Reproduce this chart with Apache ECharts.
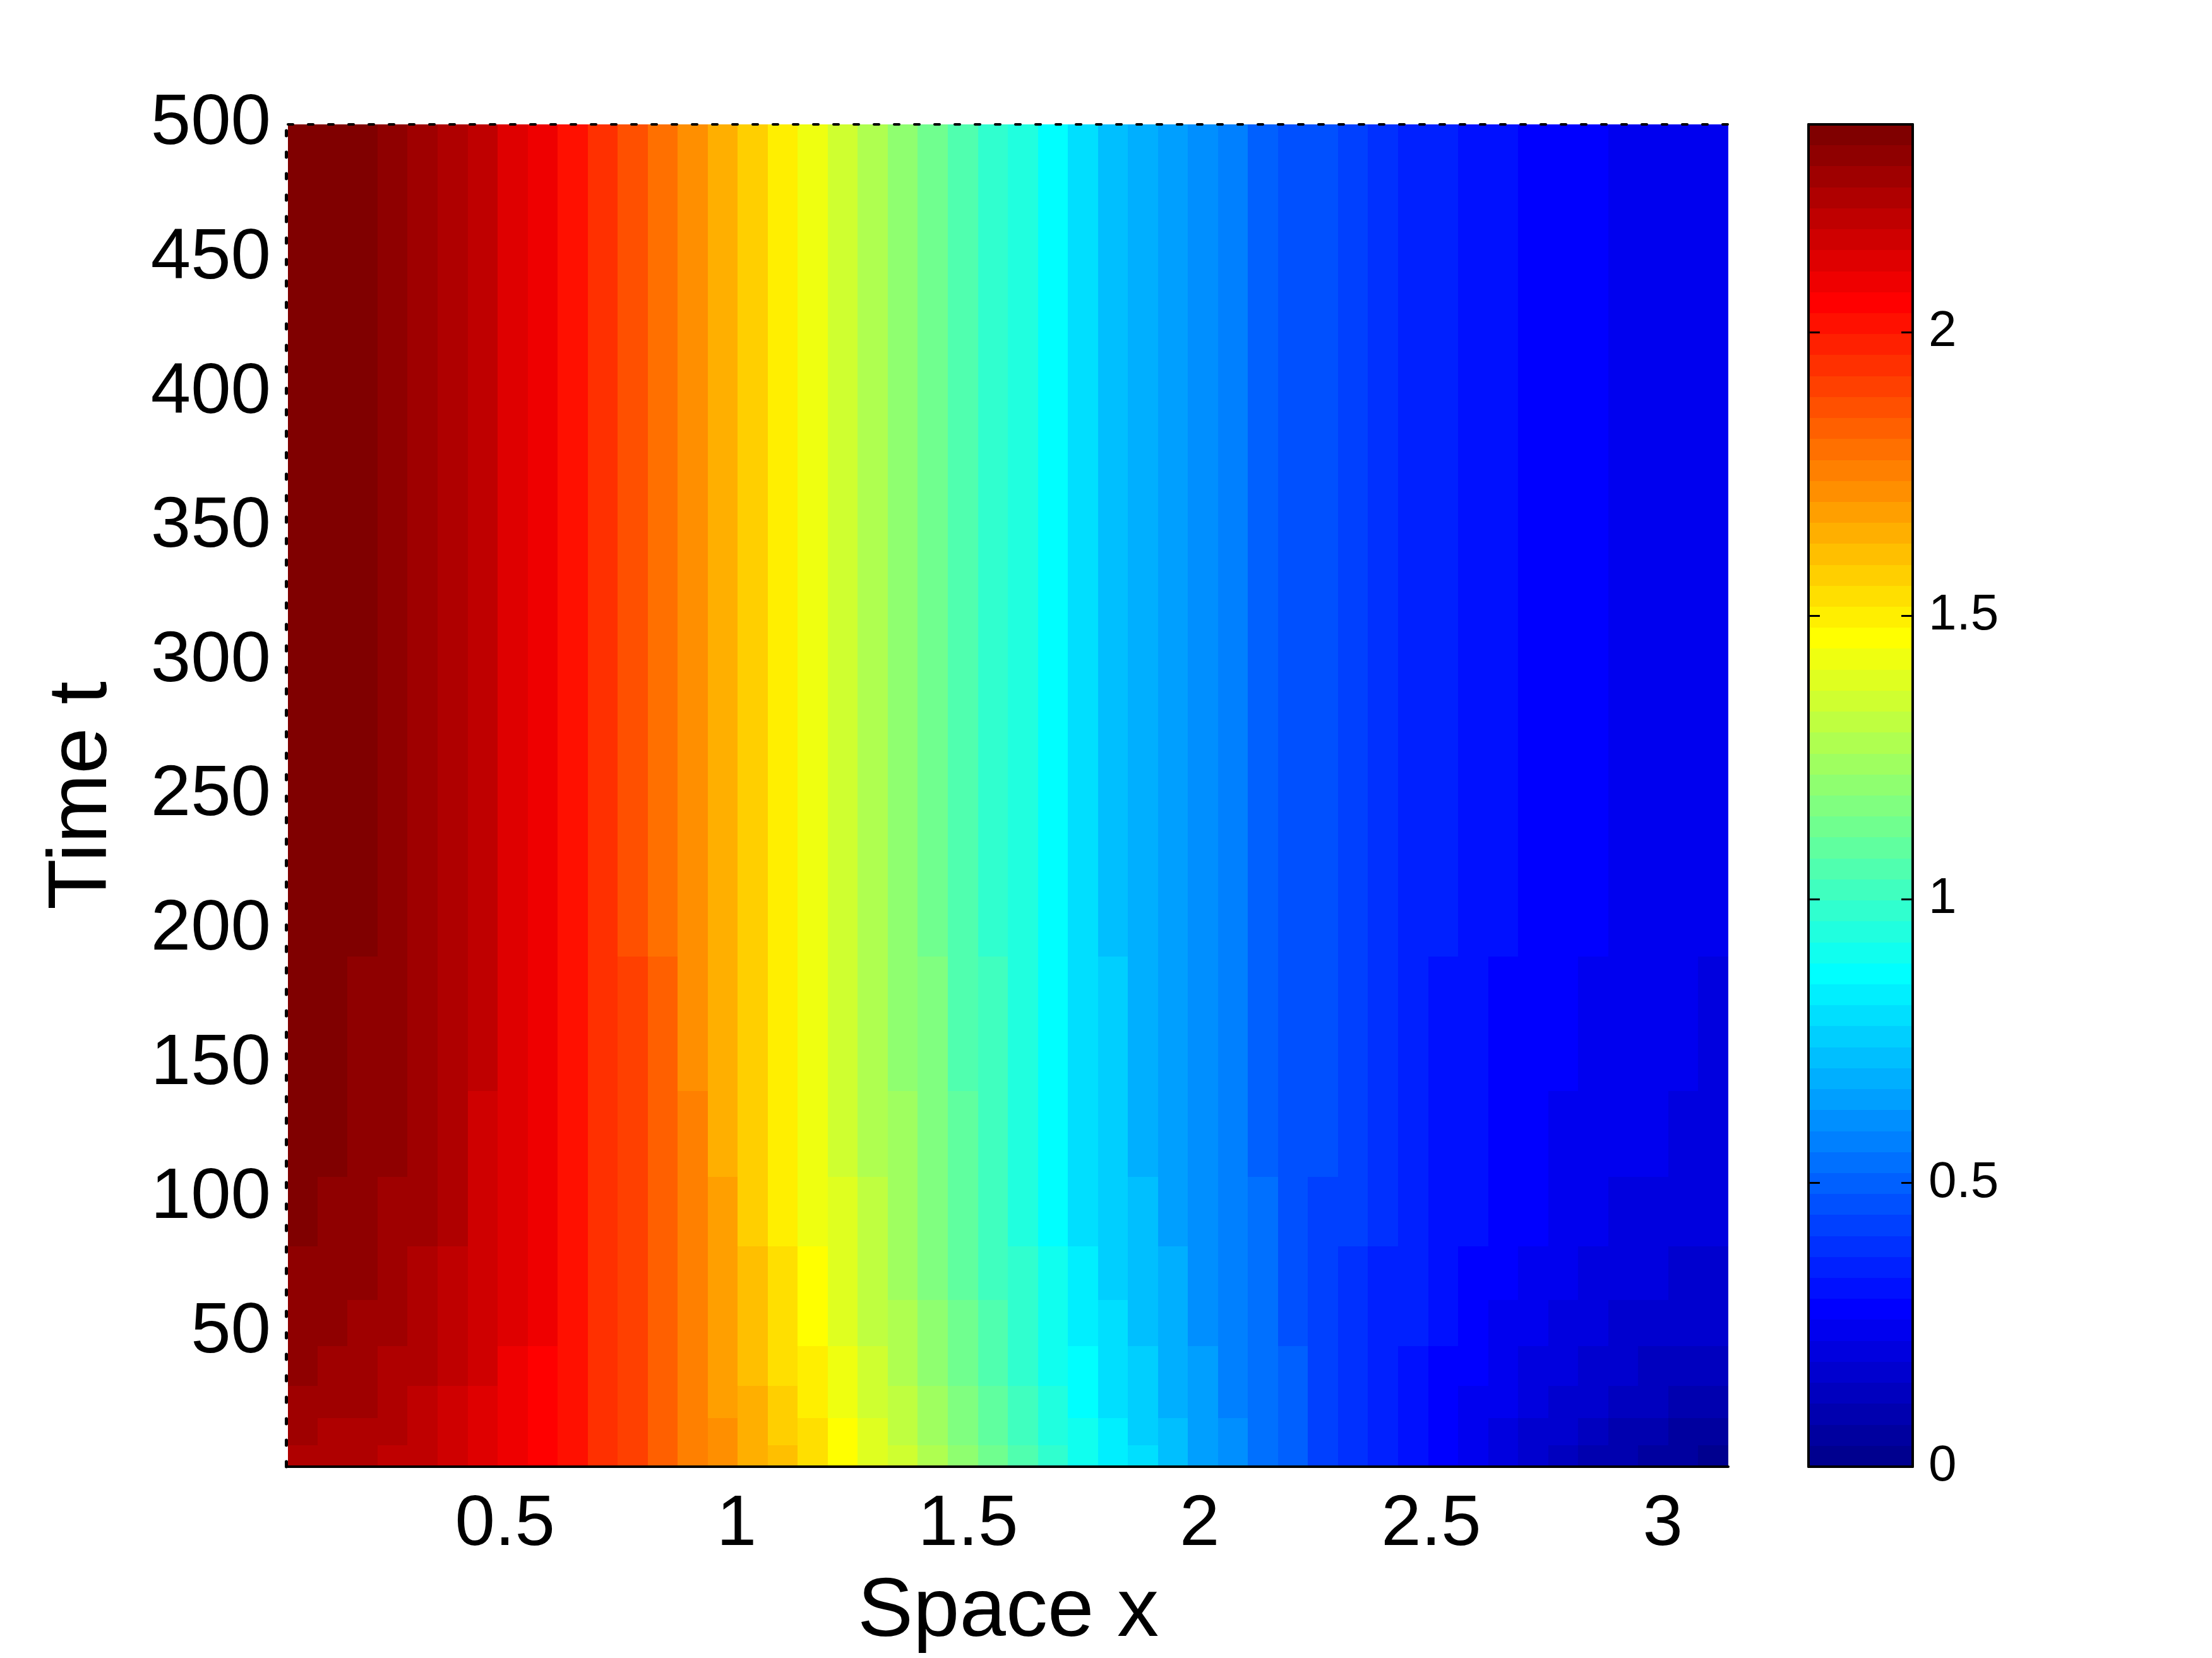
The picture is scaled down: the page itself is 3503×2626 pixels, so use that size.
<!DOCTYPE html>
<html><head><meta charset="utf-8">
<script src="https://cdn.jsdelivr.net/npm/echarts@6/dist/echarts.min.js"></script>
<style>html,body{margin:0;padding:0;background:#fff}#chart{width:3503px;height:2626px}</style>
</head><body><div id="chart"></div>
<script>
// ---- data ----
const xEdges = [0.0314, 0.0953, 0.1601, 0.2249, 0.2897, 0.3546, 0.4194, 0.4842, 0.5490, 0.6138, 0.6786, 0.7434, 0.8082, 0.8730, 0.9378, 1.0027, 1.0675, 1.1323, 1.1971, 1.2619, 1.3267, 1.3915, 1.4563, 1.5211, 1.5859, 1.6508, 1.7156, 1.7804, 1.8452, 1.9100, 1.9748, 2.0396, 2.1044, 2.1692, 2.2340, 2.2989, 2.3637, 2.4285, 2.4933, 2.5581, 2.6229, 2.6877, 2.7525, 2.8173, 2.8821, 2.9470, 3.0118, 3.0766, 3.1416];
const tEdges = [0, 8, 18, 30, 45, 62, 82, 108, 140, 190, 500];
const uRow0 = [2.244, 2.236, 2.224, 2.205, 2.183, 2.154, 2.121, 2.088, 2.055, 2.006, 1.950, 1.892, 1.833, 1.774, 1.714, 1.655, 1.597, 1.536, 1.474, 1.403, 1.339, 1.271, 1.193, 1.122, 1.051, 0.976, 0.909, 0.845, 0.788, 0.725, 0.661, 0.599, 0.541, 0.486, 0.434, 0.384, 0.335, 0.297, 0.260, 0.223, 0.192, 0.162, 0.132, 0.104, 0.078, 0.056, 0.040, 0.028];
const uRow1 = [2.261, 2.253, 2.241, 2.220, 2.197, 2.167, 2.131, 2.094, 2.060, 2.009, 1.951, 1.891, 1.830, 1.768, 1.705, 1.642, 1.580, 1.518, 1.454, 1.383, 1.319, 1.251, 1.173, 1.103, 1.032, 0.957, 0.891, 0.828, 0.773, 0.713, 0.652, 0.593, 0.537, 0.484, 0.436, 0.389, 0.342, 0.306, 0.272, 0.237, 0.208, 0.180, 0.153, 0.128, 0.104, 0.085, 0.070, 0.059];
const uRow2 = [2.279, 2.271, 2.258, 2.236, 2.211, 2.181, 2.141, 2.101, 2.065, 2.011, 1.952, 1.890, 1.826, 1.762, 1.695, 1.629, 1.564, 1.500, 1.434, 1.362, 1.299, 1.231, 1.153, 1.083, 1.012, 0.938, 0.873, 0.811, 0.758, 0.701, 0.642, 0.586, 0.533, 0.483, 0.438, 0.393, 0.349, 0.316, 0.283, 0.251, 0.225, 0.199, 0.174, 0.152, 0.131, 0.114, 0.101, 0.091];
const uRow3 = [2.296, 2.287, 2.274, 2.251, 2.225, 2.193, 2.151, 2.107, 2.069, 2.014, 1.952, 1.889, 1.823, 1.756, 1.686, 1.616, 1.548, 1.482, 1.415, 1.342, 1.279, 1.211, 1.134, 1.064, 0.993, 0.920, 0.855, 0.795, 0.744, 0.689, 0.633, 0.579, 0.529, 0.481, 0.439, 0.397, 0.357, 0.325, 0.295, 0.265, 0.241, 0.218, 0.195, 0.175, 0.157, 0.142, 0.131, 0.122];
const uRow4 = [2.312, 2.303, 2.290, 2.265, 2.237, 2.205, 2.160, 2.113, 2.074, 2.016, 1.953, 1.888, 1.820, 1.750, 1.677, 1.605, 1.533, 1.466, 1.397, 1.324, 1.261, 1.193, 1.116, 1.046, 0.976, 0.903, 0.839, 0.779, 0.730, 0.678, 0.625, 0.573, 0.525, 0.480, 0.441, 0.401, 0.363, 0.333, 0.305, 0.278, 0.256, 0.234, 0.214, 0.197, 0.181, 0.168, 0.158, 0.150];
const uRow5 = [2.325, 2.316, 2.302, 2.277, 2.248, 2.215, 2.167, 2.118, 2.077, 2.019, 1.954, 1.887, 1.817, 1.746, 1.670, 1.595, 1.521, 1.452, 1.382, 1.309, 1.245, 1.178, 1.101, 1.031, 0.962, 0.889, 0.825, 0.767, 0.719, 0.669, 0.618, 0.568, 0.522, 0.479, 0.442, 0.405, 0.369, 0.340, 0.314, 0.289, 0.268, 0.249, 0.231, 0.215, 0.201, 0.190, 0.181, 0.174];
const uRow6 = [2.336, 2.327, 2.313, 2.287, 2.257, 2.224, 2.174, 2.123, 2.080, 2.020, 1.954, 1.887, 1.815, 1.742, 1.664, 1.587, 1.510, 1.440, 1.369, 1.296, 1.232, 1.165, 1.088, 1.019, 0.949, 0.877, 0.813, 0.756, 0.710, 0.661, 0.612, 0.563, 0.519, 0.478, 0.443, 0.408, 0.373, 0.346, 0.321, 0.298, 0.279, 0.261, 0.244, 0.231, 0.218, 0.208, 0.201, 0.195];
const uRow7 = [2.345, 2.336, 2.322, 2.295, 2.264, 2.230, 2.179, 2.126, 2.083, 2.022, 1.954, 1.886, 1.814, 1.738, 1.659, 1.580, 1.502, 1.431, 1.359, 1.285, 1.222, 1.155, 1.078, 1.009, 0.939, 0.867, 0.804, 0.747, 0.702, 0.655, 0.608, 0.560, 0.517, 0.477, 0.444, 0.410, 0.377, 0.351, 0.327, 0.305, 0.287, 0.270, 0.255, 0.243, 0.232, 0.223, 0.216, 0.211];
const uRow8 = [2.351, 2.341, 2.327, 2.300, 2.269, 2.235, 2.182, 2.128, 2.084, 2.023, 1.955, 1.886, 1.813, 1.737, 1.656, 1.576, 1.497, 1.425, 1.353, 1.279, 1.215, 1.148, 1.071, 1.002, 0.933, 0.861, 0.798, 0.742, 0.698, 0.651, 0.605, 0.558, 0.515, 0.476, 0.444, 0.411, 0.379, 0.354, 0.331, 0.309, 0.292, 0.276, 0.262, 0.251, 0.240, 0.232, 0.226, 0.221];
const uRow9 = [2.358, 2.349, 2.334, 2.306, 2.275, 2.240, 2.186, 2.131, 2.086, 2.024, 1.955, 1.885, 1.811, 1.734, 1.652, 1.570, 1.490, 1.418, 1.345, 1.270, 1.207, 1.140, 1.063, 0.994, 0.925, 0.853, 0.790, 0.735, 0.691, 0.646, 0.601, 0.555, 0.514, 0.476, 0.445, 0.413, 0.382, 0.358, 0.336, 0.315, 0.299, 0.284, 0.271, 0.261, 0.251, 0.244, 0.239, 0.234];
const uRows = [uRow0, uRow1, uRow2, uRow3, uRow4, uRow5, uRow6, uRow7, uRow8, uRow9];

const xMin = 0.0314, xMax = 3.1416;
const tMin = 0, tMax = 500;
const colorMin = 0, colorMax = 2.366;
const xTickValues = [0.5, 1, 1.5, 2, 2.5, 3];
const tTickValues = [50, 100, 150, 200, 250, 300, 350, 400, 450, 500];
const cbTickValues = [0, 0.5, 1, 1.5, 2];
const xTitle = 'Space x';
const tTitle = 'Time t';

// ---- jet(64) colormap ----
function jetColor(k) { // k = 1..64
  const u = [];
  for (let i = 1; i <= 16; i++) u.push(i / 16);
  for (let i = 0; i < 15; i++) u.push(1);
  for (let i = 16; i >= 1; i--) u.push(i / 16);
  const pick = (idx) => (idx >= 0 && idx < u.length) ? u[idx] : 0;
  const r = pick(k - 25), g = pick(k - 9), b = pick(k + 7);
  const h = (v) => Math.round(v * 255);
  return 'rgb(' + h(r) + ',' + h(g) + ',' + h(b) + ')';
}
const nLevels = 64;
const step = (colorMax - colorMin) / nLevels;
const pieces = [];
for (let k = 0; k < nLevels; k++) {
  const p = { color: jetColor(k + 1) };
  if (k > 0) p.gte = colorMin + k * step;
  if (k < nLevels - 1) p.lt = colorMin + (k + 1) * step;
  pieces.push(p);
}

const fieldData = [];
uRows.forEach((row, r) => row.forEach((v, c) => {
  fieldData.push([xEdges[c], xEdges[c + 1], tEdges[r], tEdges[r + 1], v]);
}));
const barData = [];
for (let k = 0; k < nLevels; k++) {
  barData.push([0, 1, colorMin + k * step, colorMin + (k + 1) * step, colorMin + (k + 0.5) * step]);
}

function renderCell(params, api) {
  const p0 = api.coord([api.value(0), api.value(3)]);
  const p1 = api.coord([api.value(1), api.value(2)]);
  const x0 = Math.round(p0[0]), x1 = Math.round(p1[0]);
  const y0 = Math.round(p0[1]), y1 = Math.round(p1[1]);
  return { type: 'rect', shape: { x: x0, y: y0, width: x1 - x0, height: y1 - y0 },
    style: { fill: api.visual('color') } };
}

const FONT = '"Liberation Sans", Arial, Helvetica, sans-serif';
const black = '#000';

const chart = echarts.init(document.getElementById('chart'), null, { renderer: 'canvas' });
chart.setOption({
  animation: false,
  backgroundColor: '#ffffff',
  textStyle: { fontFamily: FONT, color: black },
  grid: [
    { left: 456, top: 197, width: 2281, height: 2126, containLabel: false },
    { left: 2864, top: 197, width: 165, height: 2126, containLabel: false }
  ],
  visualMap: {
    type: 'piecewise', show: false, dimension: 4, seriesIndex: [0, 1],
    pieces: pieces
  },
  xAxis: [
    { type: 'value', gridIndex: 0, position: 'bottom', min: xMin, max: xMax, z: 10,
      axisLine: { show: true, onZero: false, lineStyle: { color: black, width: 4 } },
      axisTick: { show: false },
      splitLine: { show: false },
      axisLabel: { customValues: xTickValues, fontSize: 114, color: black, fontFamily: FONT, margin: 36 },
      name: xTitle, nameLocation: 'middle', nameGap: 166,
      nameTextStyle: { fontSize: 132, color: black, fontFamily: FONT } },
    { type: 'value', gridIndex: 0, position: 'top', min: xMin, max: xMax, z: 10,
      axisLine: { show: true, onZero: false, lineStyle: { color: black, width: 4, type: [8, 24] } },
      axisTick: { show: false }, axisLabel: { show: false }, splitLine: { show: false } },
    { type: 'value', gridIndex: 1, position: 'bottom', min: 0, max: 1, z: 10,
      axisLine: { show: true, onZero: false, lineStyle: { color: black, width: 4 } },
      axisTick: { show: false }, axisLabel: { show: false }, splitLine: { show: false } },
    { type: 'value', gridIndex: 1, position: 'top', min: 0, max: 1, z: 10,
      axisLine: { show: true, onZero: false, lineStyle: { color: black, width: 4 } },
      axisTick: { show: false }, axisLabel: { show: false }, splitLine: { show: false } }
  ],
  yAxis: [
    { type: 'value', gridIndex: 0, position: 'left', min: tMin, max: tMax, z: 10, offset: 3,
      axisLine: { show: true, onZero: false, lineStyle: { color: black, width: 5, type: [8, 26] } },
      axisTick: { show: false },
      splitLine: { show: false },
      axisLabel: { customValues: tTickValues, fontSize: 114, color: black, fontFamily: FONT, margin: 24 },
      name: tTitle, nameLocation: 'middle', nameGap: 255,
      nameTextStyle: { fontSize: 132, color: black, fontFamily: FONT } },
    { type: 'value', gridIndex: 1, position: 'left', min: colorMin, max: colorMax, z: 10,
      axisLine: { show: true, onZero: false, lineStyle: { color: black, width: 4 } },
      axisTick: { show: true, inside: true, length: 18, customValues: cbTickValues, lineStyle: { color: black, width: 3 } },
      axisLabel: { show: false }, splitLine: { show: false } },
    { type: 'value', gridIndex: 1, position: 'right', min: colorMin, max: colorMax, z: 10,
      axisLine: { show: true, onZero: false, lineStyle: { color: black, width: 4 } },
      axisTick: { show: true, inside: true, length: 18, customValues: cbTickValues, lineStyle: { color: black, width: 3 } },
      axisLabel: { customValues: cbTickValues, fontSize: 80, color: black, fontFamily: FONT, margin: 25 },
      splitLine: { show: false } }
  ],
  series: [
    { type: 'custom', name: 'u(x,t)', xAxisIndex: 0, yAxisIndex: 0, clip: true, z: 1,
      renderItem: renderCell, encode: { x: [0, 1], y: [2, 3] }, data: fieldData },
    { type: 'custom', name: 'colorbar', xAxisIndex: 2, yAxisIndex: 1, clip: true, z: 1,
      renderItem: renderCell, encode: { x: [0, 1], y: [2, 3] }, data: barData }
  ]
});
</script>
</body></html>
